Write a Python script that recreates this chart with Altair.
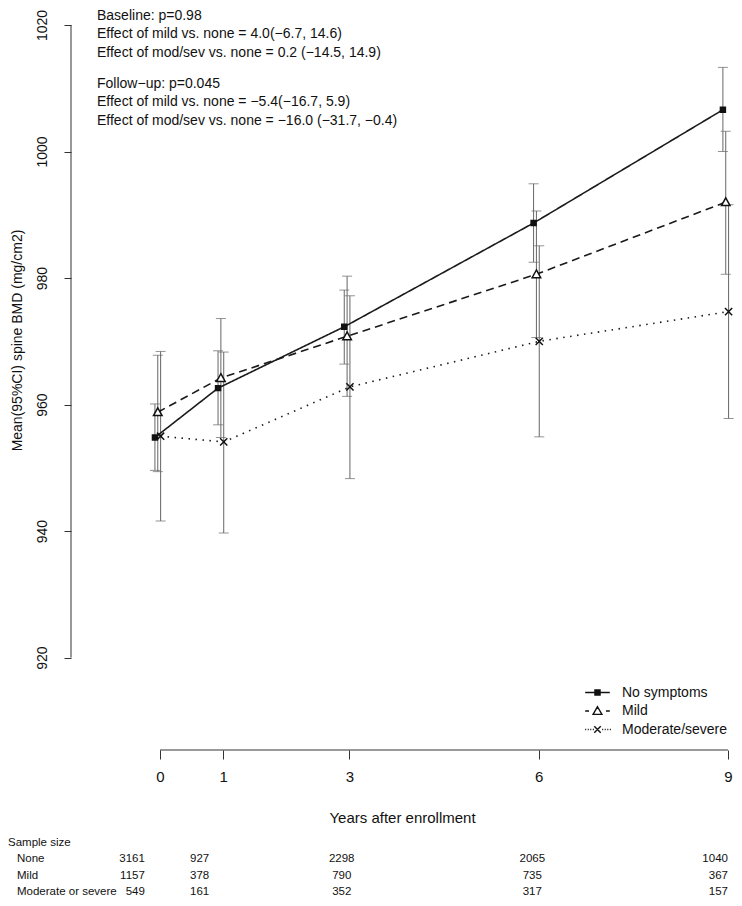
import altair as alt
import pandas as pd

# ---------------- data ----------------
years = [0, 1, 3, 6, 9]
groups = ["No symptoms", "Mild", "Moderate/severe"]

none_mean = [954.8, 962.6, 972.3, 988.7, 1006.6]
none_lo = [949.6, 956.8, 966.4, 982.5, 1000.0]
none_hi = [960.1, 968.5, 978.1, 994.9, 1013.3]

mild_mean = [958.8, 964.2, 970.8, 980.6, 992.0]
mild_lo = [949.4, 954.8, 961.3, 970.6, 980.6]
mild_hi = [967.8, 973.6, 980.3, 990.6, 1003.2]

mod_mean = [955.0, 954.1, 962.8, 970.0, 974.7]
mod_lo = [941.6, 939.7, 948.3, 954.9, 957.8]
mod_hi = [968.4, 968.3, 977.2, 985.1, 991.6]

n_none = [3161, 927, 2298, 2065, 1040]
n_mild = [1157, 378, 790, 735, 367]
n_mod = [549, 161, 352, 317, 157]
table_rows = ["None", "Mild", "Moderate or severe"]

y_ticks = [920, 940, 960, 980, 1000, 1020]

anno_baseline = [
    "Baseline: p=0.98",
    "Effect of mild vs. none = 4.0(\u22126.7, 14.6)",
    "Effect of mod/sev vs. none = 0.2 (\u221214.5, 14.9)",
]
anno_followup = [
    "Follow\u2212up: p=0.045",
    "Effect of mild vs. none = \u22125.4(\u221216.7, 5.9)",
    "Effect of mod/sev vs. none = \u221216.0 (\u221231.7, \u22120.4)",
]

# ---------------- layout / style ----------------
FONT = "Liberation Sans, Arial, sans-serif"
W, H = 662, 725
TOP = 17
X_DOM = [-1.41, 9.08]
Y_DOM = [905.4, 1020]
offsets = {"No symptoms": -0.08, "Mild": -0.035, "Moderate/severe": 0.01}
# table column anchors (years) and alignment
col_pos = [-0.24, 0.78, 2.88, 5.90, 9.0]
col_align = ["right", "right", "center", "center", "right"]

rows = []
for g, m, lo, hi in [
    ("No symptoms", none_mean, none_lo, none_hi),
    ("Mild", mild_mean, mild_lo, mild_hi),
    ("Moderate/severe", mod_mean, mod_lo, mod_hi),
]:
    for i, yr in enumerate(years):
        rows.append(dict(group=g, year=yr, xpos=yr + offsets[g], mean=m[i], lo=lo[i], hi=hi[i]))
df = pd.DataFrame(rows)

xs = alt.Scale(domain=X_DOM, nice=False, zero=False)
ys = alt.Scale(domain=Y_DOM, nice=False, zero=False)

x_axis = alt.Axis(
    values=years, format="d", domain=False, grid=False, tickSize=9, tickColor="#333",
    labelFont=FONT, labelFontSize=15, labelColor="#111", labelPadding=10,
    title="Years after enrollment", titleFont=FONT, titleFontSize=15,
    titleFontWeight="normal", titleColor="#111", titlePadding=26,
)
y_axis = alt.Axis(
    values=y_ticks, format="d", domain=False, grid=False, tickSize=7, tickColor="#333",
    labelFont=FONT, labelFontSize=14, labelColor="#111", labelAngle=-90,
    labelAlign="center", labelBaseline="bottom", labelPadding=15,
    title="Mean(95%CI) spine BMD (mg/cm2)", titleFont=FONT, titleFontSize=14,
    titleFontWeight="normal", titleColor="#111", titleAngle=-90,
    titleAlign="center", titleBaseline="middle", titleX=-54, titleY=315,
)

base = alt.Chart(df)

errbars = base.mark_rule(color="#666", strokeWidth=1).encode(
    x=alt.X("xpos:Q", scale=xs, axis=x_axis),
    y=alt.Y("lo:Q", scale=ys, axis=y_axis),
    y2="hi:Q",
)
cap_lo = base.mark_tick(orient="horizontal", size=10, thickness=1, color="#666").encode(
    x=alt.X("xpos:Q", scale=xs), y=alt.Y("lo:Q", scale=ys)
)
cap_hi = base.mark_tick(orient="horizontal", size=10, thickness=1, color="#666").encode(
    x=alt.X("xpos:Q", scale=xs), y=alt.Y("hi:Q", scale=ys)
)

lines = base.mark_line(color="#1a1a1a", strokeWidth=1.6).encode(
    x=alt.X("xpos:Q", scale=xs),
    y=alt.Y("mean:Q", scale=ys),
    strokeDash=alt.StrokeDash(
        "group:N",
        scale=alt.Scale(domain=groups, range=[[1, 0], [8, 5], [1.5, 5.5]]),
        legend=None,
    ),
    order="year:Q",
)

pt_shapes = [
    "M-0.55,-0.55H0.55V0.55H-0.55Z",
    "M0,-0.95L0.95,0.75L-0.95,0.75Z",
    "M-0.8,-0.8L0.8,0.8M-0.8,0.8L0.8,-0.8",
]
points = base.mark_point(size=81, strokeWidth=1.5, opacity=1, stroke="#111").encode(
    x=alt.X("xpos:Q", scale=xs),
    y=alt.Y("mean:Q", scale=ys),
    shape=alt.Shape("group:N", scale=alt.Scale(domain=groups, range=pt_shapes), legend=None),
    fill=alt.Fill("group:N", scale=alt.Scale(domain=groups, range=["#111", "white", "white"]), legend=None),
)

# legend symbols: line style + marker drawn as custom paths
dots_l = "".join(f"M{v:.2f},0h0.12" for v in [-1.45, -1.15, -0.85, -0.55])
dots_r = "".join(f"M{v:.2f},0h0.12" for v in [0.55, 0.85, 1.15, 1.45])
leg_shapes = [
    "M-1.45,0H1.45M-0.3,-0.3H0.3V0.3H-0.3ZM-0.3,-0.15H0.3M-0.3,0.15H0.3",
    "M-1.45,0H-1.0M1.0,0H1.45M0,-0.5L0.52,0.4L-0.52,0.4Z",
    dots_l + dots_r + "M-0.38,-0.38L0.38,0.38M-0.38,0.38L0.38,-0.38",
]
legend_layer = base.mark_point(size=289, opacity=0).encode(
    x=alt.X("xpos:Q", scale=xs),
    y=alt.Y("mean:Q", scale=ys),
    shape=alt.Shape(
        "group:N",
        scale=alt.Scale(domain=groups, range=leg_shapes),
        legend=alt.Legend(
            title=None, orient="none", legendX=517, legendY=658,
            labelFont=FONT, labelFontSize=14, labelColor="#111",
            symbolSize=289, symbolStrokeColor="#111", symbolStrokeWidth=1.4,
            symbolFillColor="transparent", symbolOpacity=1,
            labelOffset=15, rowPadding=1.5, padding=0,
        ),
    ),
)

# axis lines R-style (only from first to last tick)
xline = alt.Chart(pd.DataFrame({"a": [years[0]], "b": [years[-1]]})).mark_rule(
    color="#333", strokeWidth=1
).encode(x=alt.X("a:Q", scale=xs), x2="b:Q", y=alt.value(H))
yline = alt.Chart(pd.DataFrame({"a": [y_ticks[0]], "b": [y_ticks[-1]]})).mark_rule(
    color="#333", strokeWidth=1
).encode(y=alt.Y("a:Q", scale=ys), y2="b:Q", x=alt.value(0))

anno1 = alt.Chart(pd.DataFrame({"t": [0]})).mark_text(
    align="left", baseline="top", font=FONT, fontSize=14, color="#111", lineHeight=18.3
).encode(x=alt.value(26), y=alt.value(-16), text=alt.value(anno_baseline))
anno2 = alt.Chart(pd.DataFrame({"t": [0]})).mark_text(
    align="left", baseline="top", font=FONT, fontSize=14, color="#111", lineHeight=18.3
).encode(x=alt.value(26), y=alt.value(52), text=alt.value(anno_followup))

# sample size table
tab = pd.DataFrame({
    "pos": col_pos,
    "align": col_align,
    "txt": [f"{a}\n{b}\n{c}" for a, b, c in zip(n_none, n_mild, n_mod)],
})
TAB_FS = 11.5
TAB_Y = 834
tab_layers = []
for al in ["right", "center"]:
    tab_layers.append(
        alt.Chart(tab[tab["align"] == al]).mark_text(
            align=al, baseline="middle", font=FONT, fontSize=TAB_FS, color="#111",
            lineBreak="\n", lineHeight=16.5,
        ).encode(x=alt.X("pos:Q", scale=xs), y=alt.value(TAB_Y), text="txt:N")
    )
tab_title = alt.Chart(pd.DataFrame({"t": [0]})).mark_text(
    align="left", baseline="middle", font=FONT, fontSize=TAB_FS, color="#111",
).encode(x=alt.value(-63), y=alt.value(TAB_Y - 16.5), text=alt.value("Sample size"))
tab_rows = alt.Chart(pd.DataFrame({"t": ["\n".join(table_rows)]})).mark_text(
    align="left", baseline="middle", font=FONT, fontSize=TAB_FS, color="#111",
    lineBreak="\n", lineHeight=16.5,
).encode(x=alt.value(-54), y=alt.value(TAB_Y), text="t:N")

chart = alt.layer(
    errbars, cap_lo, cap_hi, lines, points, legend_layer, xline, yline, anno1, anno2,
    *tab_layers, tab_title, tab_rows,
).resolve_scale(shape="independent", fill="independent").properties(
    width=W, height=H,
    autosize=alt.AutoSizeParams(type="none"),
    padding={"left": 63, "top": TOP, "right": 1, "bottom": 148},
).configure_view(stroke=None)

chart.save("out.html", embed_options={"renderer": "svg", "actions": False})
